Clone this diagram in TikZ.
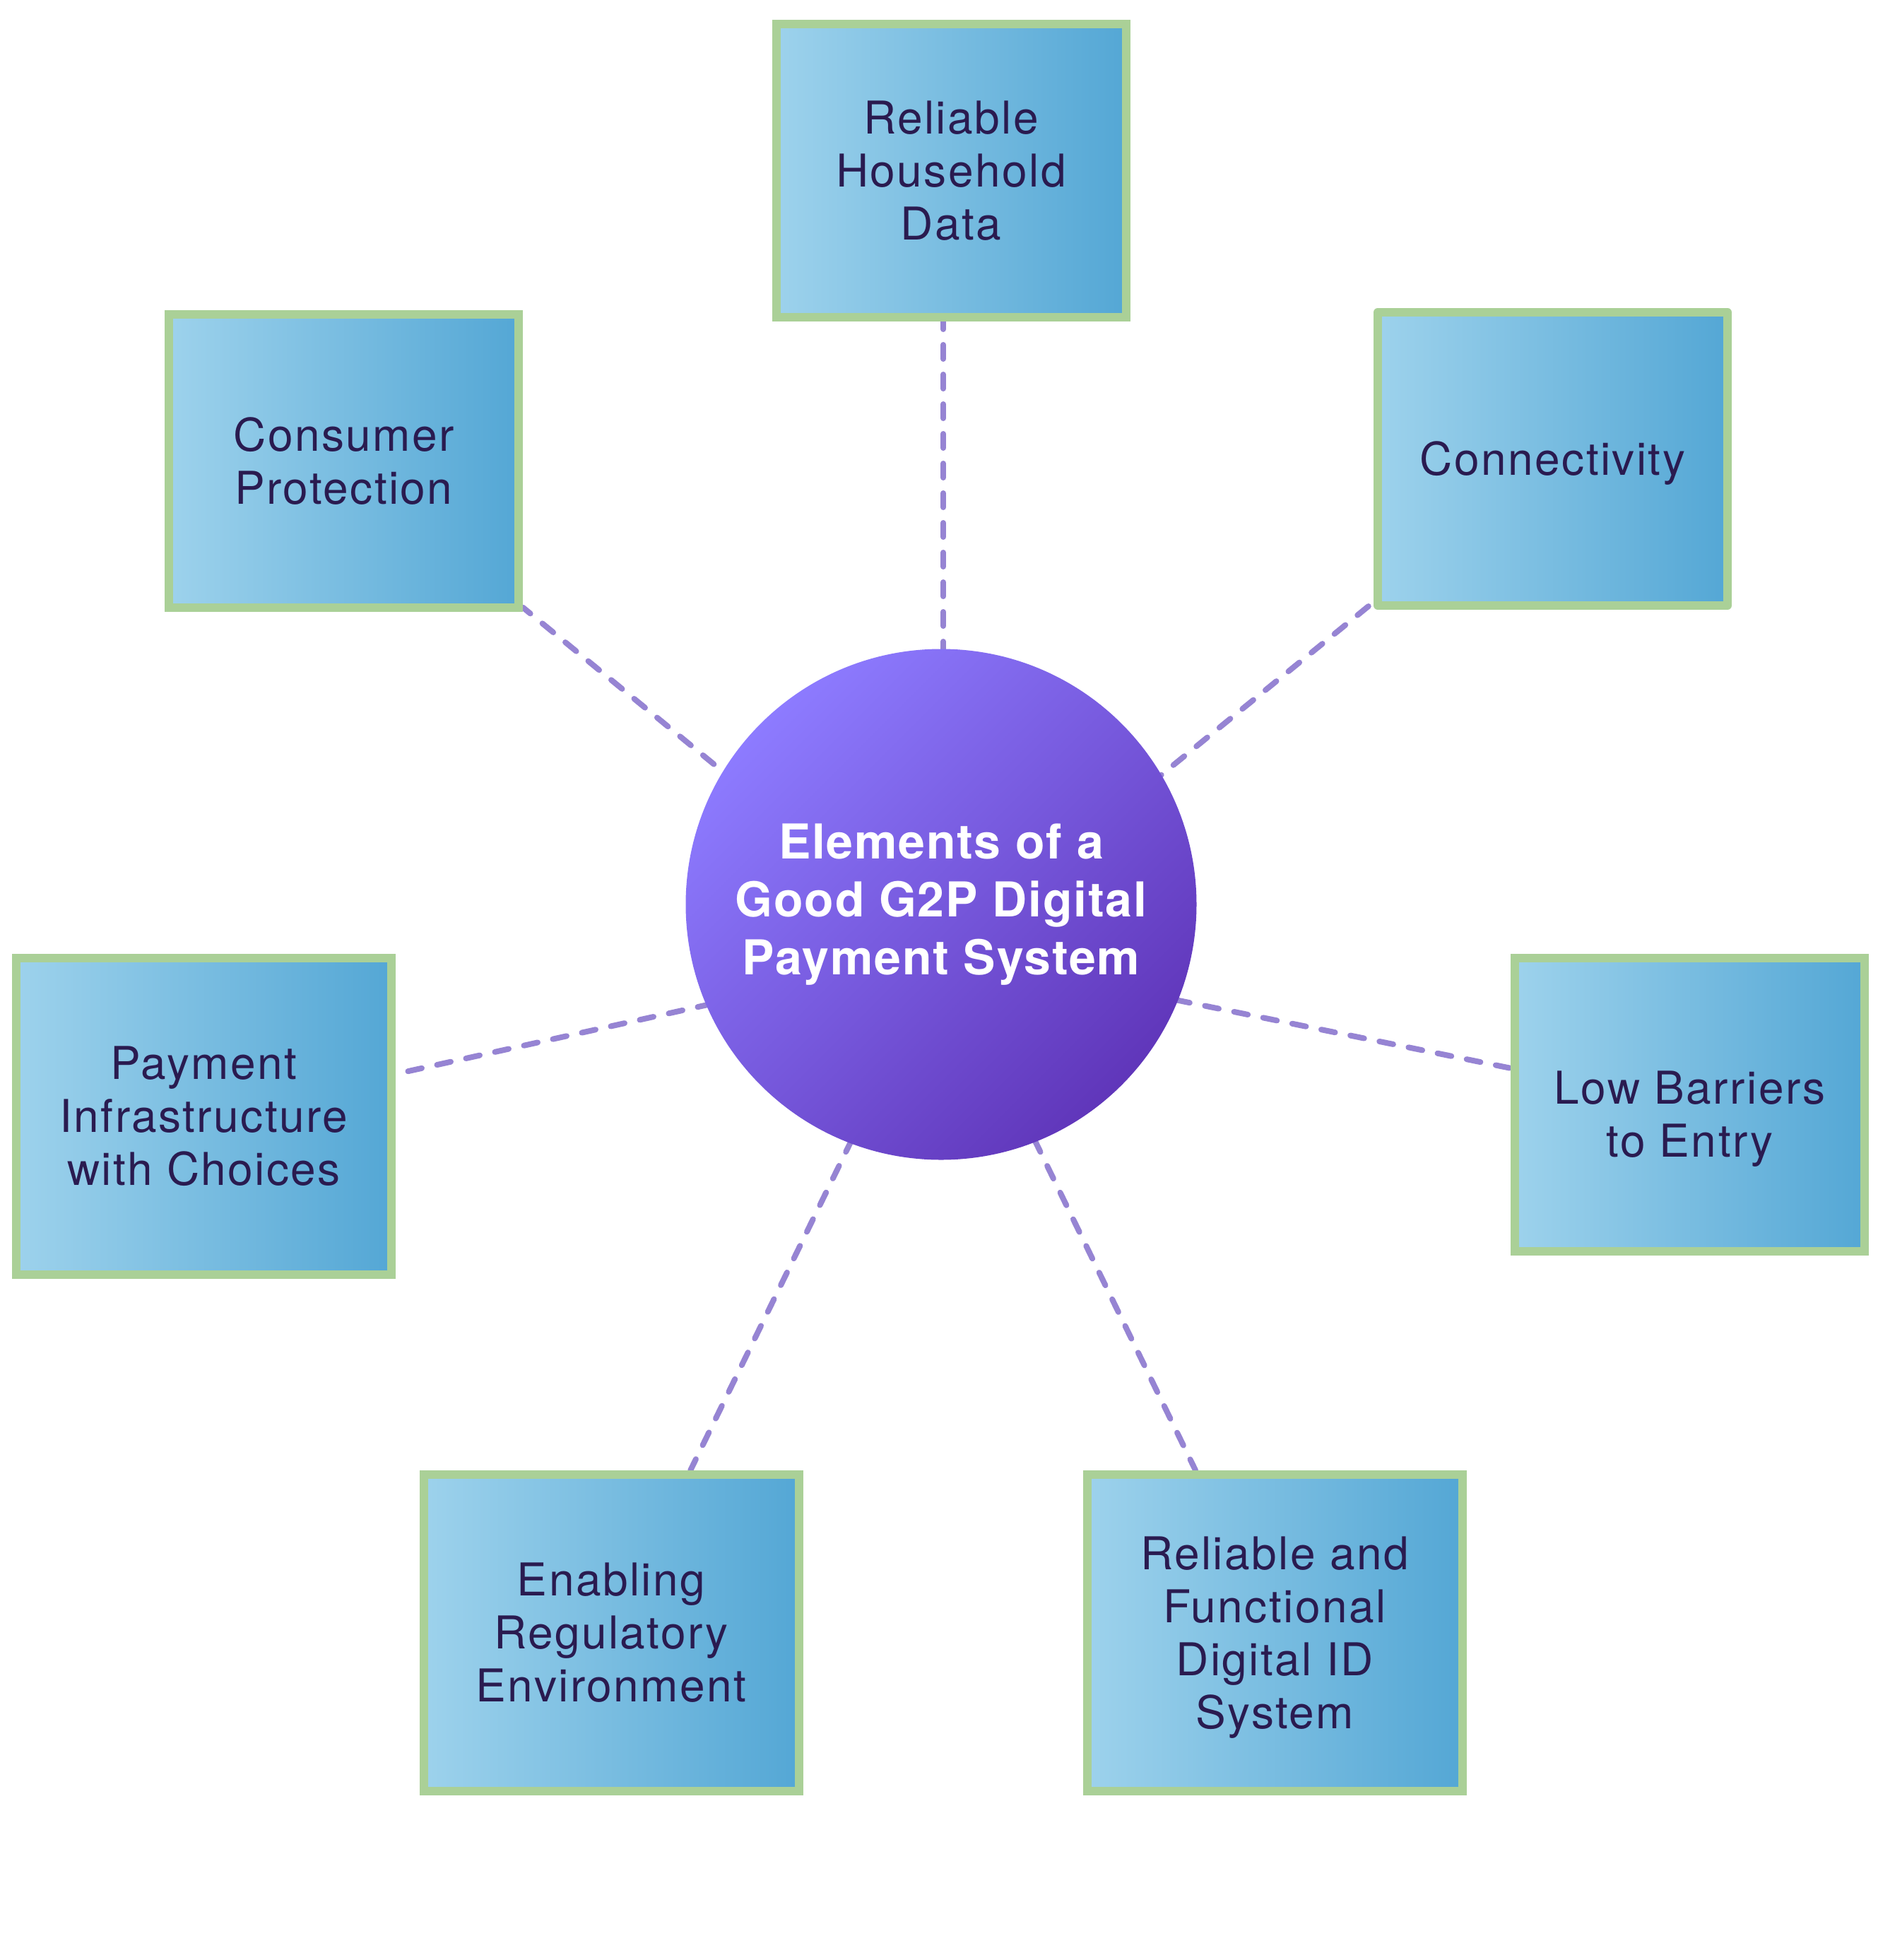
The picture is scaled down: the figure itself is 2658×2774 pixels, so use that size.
\documentclass[tikz,border=0pt]{standalone}
\usepackage{fontspec}
\setmainfont{TeX Gyre Heros}
\newfontfamily\boxfont{TeX Gyre Heros}[LetterSpace=3.8]
\newfontfamily\hubfont{TeX Gyre Heros}[LetterSpace=2.6]
\usetikzlibrary{backgrounds}
\definecolor{bord}{HTML}{AAD097}
\definecolor{bl}{HTML}{9DD2EC}
\definecolor{br}{HTML}{54A7D5}
\definecolor{txt}{HTML}{2A1B50}
\definecolor{cl}{HTML}{8D7BFF}
\definecolor{cd}{HTML}{6036BA}
\definecolor{lnk}{HTML}{9684D3}
\newcommand{\dn}[1]{\rule{0pt}{#1}}
\tikzset{
  box/.style={draw=bord, line width=12pt, left color=bl, right color=br, text=txt,
    align=center, inner sep=0pt, font=\boxfont\fontsize{64}{75}\selectfont},
  smallbox/.style={box, minimum width=495pt, minimum height=415pt},
  bigbox/.style={box, minimum width=531pt, minimum height=448pt},
  hubc/.style={circle, minimum size=723pt, inner sep=0pt, top color=cl, bottom color=cd,
    shading angle=45, text=white, align=center, font=\hubfont\bfseries\fontsize{68}{82}\selectfont},
  link/.style={draw=lnk, line width=8pt, line cap=round, dash pattern=on 20pt off 22pt}
}
\begin{document}
\begin{tikzpicture}[x=1pt, y=-1pt]
  \useasboundingbox (0,0) rectangle (2658,2774);
  \node[hubc] (c) at (1332,1280) {Elements of a\\Good G2P Digital\\Payment System};
  \coordinate (hub) at (1335,1348);
  \node[smallbox] (hd) at (1346,241.5) {Reliable\\Household\\Data};
  \node[smallbox] (cp) at (486.5,652.5) {Consumer\\Protection};
  \node[smallbox, line join=round] (cn) at (2197.5,649.5) {\dn{60pt}Connectivity};
  \node[smallbox] (lb) at (2391.5,1563.5) {\dn{86pt}Low Barriers\\to Entry};
  \node[bigbox] (pi) at (288.5,1579.5) {Payment\\Infrastructure\\with Choices};
  \node[bigbox] (er) at (865,2311) {Enabling\\Regulatory\\Environment};
  \node[bigbox] (rf) at (1804,2311) {\dn{60pt}Reliable and\\Functional\\Digital ID\\System};
  \begin{scope}[on background layer]
    \fill[white] (0,0) rectangle (2658,2774);
    \draw[link] (hub) -- (hub |- hd.south);
    \foreach \n in {cp,cn,pi,lb,er,rf} \draw[link] (hub) -- (\n);
  \end{scope}
\end{tikzpicture}
\end{document}
